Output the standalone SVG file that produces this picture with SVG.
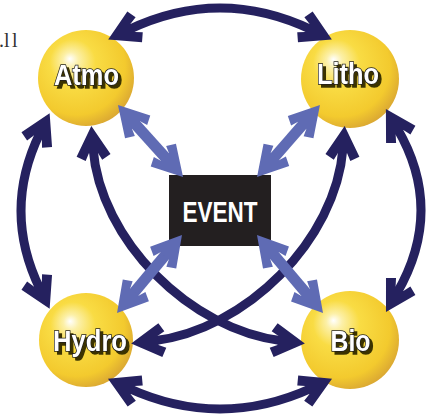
<svg xmlns="http://www.w3.org/2000/svg" width="427" height="414" viewBox="0 0 427 414">
<defs>
<radialGradient id="ball" cx="0.42" cy="0.4" r="0.68" fx="0.33" fy="0.3">
<stop offset="0" stop-color="#ffffff"/>
<stop offset="0.12" stop-color="#fcf0a8"/>
<stop offset="0.35" stop-color="#f9dc44"/>
<stop offset="0.75" stop-color="#f3ca2e"/>
<stop offset="1" stop-color="#d29c34"/>
</radialGradient>
<filter id="shd" x="-10%" y="-10%" width="130%" height="140%">
<feOffset in="SourceAlpha" dx="2.5" dy="2.5" result="o"/>
<feFlood flood-color="#3a3300"/>
<feComposite in2="o" operator="in" result="s"/>
<feMerge><feMergeNode in="s"/><feMergeNode in="SourceGraphic"/></feMerge>
</filter>
<marker id="hd" markerUnits="userSpaceOnUse" orient="auto-start-reverse" overflow="visible" markerWidth="1" markerHeight="1" refX="0" refY="0">
<path d="M22,0 L-7.4,-17 L-12.4,-8.3 L-5,-4.5 L-5,4.5 L-12.4,8.3 L-7.4,17 Z" fill="#25215f"/>
</marker>
<marker id="hl" markerUnits="userSpaceOnUse" orient="auto-start-reverse" overflow="visible" markerWidth="1" markerHeight="1" refX="0" refY="0">
<path d="M22,0 L-7.4,-17 L-12.4,-8.3 L-5,-5.5 L-5,5.5 L-12.4,8.3 L-7.4,17 Z" fill="#5f6bb4"/>
</marker>
</defs>
<style>
.ball{fill:url(#ball)}
.lab{font-family:"Liberation Sans",Arial,sans-serif;font-weight:bold;font-size:30px;text-anchor:middle;fill:#ffffff;stroke:#1a1a1a;stroke-width:1.6;paint-order:stroke;filter:url(#shd)}
.dk{fill:none;stroke:#25215f;stroke-width:9;marker-start:url(#hd);marker-end:url(#hd)}
.lt{fill:none;stroke:#5f6bb4;stroke-width:11;marker-start:url(#hl);marker-end:url(#hl)}
</style>
<rect width="427" height="414" fill="#ffffff"/>
<text x="-1 4 12" y="47" font-family="Liberation Serif, serif" font-size="20" fill="#333333">.ll</text>
<g id="atmo">
<circle class="ball" cx="86" cy="78" r="48"/>
<text class="lab" x="86.5" y="84.5" textLength="65" lengthAdjust="spacingAndGlyphs">Atmo</text>
</g>
<g id="litho">
<circle class="ball" cx="350" cy="79" r="49"/>
<text class="lab" x="348" y="83.5" textLength="62" lengthAdjust="spacingAndGlyphs">Litho</text>
</g>
<g id="hydro">
<circle class="ball" cx="86" cy="340" r="47"/>
<text class="lab" x="90" y="350.5" textLength="74" lengthAdjust="spacingAndGlyphs">Hydro</text>
</g>
<g id="bio">
<circle class="ball" cx="350" cy="340" r="49"/>
<text class="lab" x="350.5" y="350.5" textLength="40" lengthAdjust="spacingAndGlyphs">Bio</text>
</g>
<g id="event">
<rect x="169" y="175" width="102" height="71" fill="#231f20"/>
<text x="220" y="222" font-family="Liberation Sans, Arial, sans-serif" font-weight="bold" font-size="30" fill="#ffffff" text-anchor="middle" textLength="75" lengthAdjust="spacingAndGlyphs">EVENT</text>
</g>
<g id="connectors">
<path class="dk" d="M128,30 Q220,-14 312,30"/>
<path class="dk" d="M128,388 Q220,430 312,388"/>
<path class="dk" d="M40,133 Q2,211 40,289"/>
<path class="dk" d="M397,128 Q445,210 397,293"/>
<path class="dk" d="M93,148 C100,240 190,330 283,341"/>
<path class="dk" d="M343,148 C336,240 246,330 153,341"/>
<path class="lt" d="M132.7,121.3 L168.3,160.7"/>
<path class="lt" d="M305.5,121.5 L271.5,160.5"/>
<path class="lt" d="M167.9,251.9 L131.1,296.1"/>
<path class="lt" d="M271.2,251.8 L308.8,296.2"/>
</g>
</svg>
